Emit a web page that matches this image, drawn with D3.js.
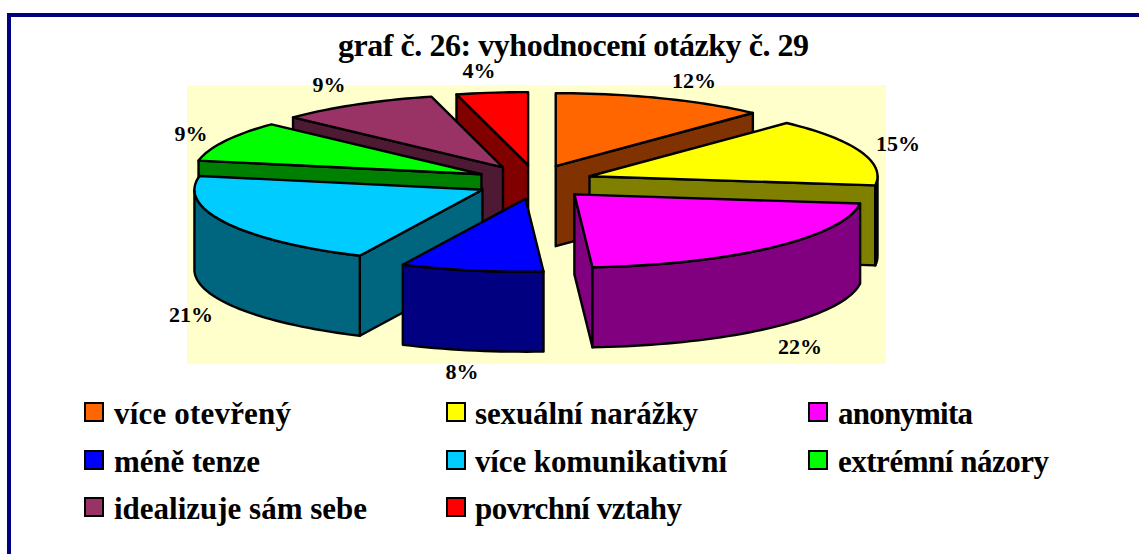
<!DOCTYPE html>
<html><head><meta charset="utf-8">
<script src="https://cdn.jsdelivr.net/npm/d3@7/dist/d3.min.js"></script>
<style>html,body{margin:0;padding:0;background:#fff}svg{display:block}text{font-family:"Liberation Serif",serif;font-weight:bold;fill:#000}</style>
</head><body><svg id="c" width="1139" height="554"></svg>
<script>
const categories = ["více otevřený","sexuální narážky","anonymita","méně tenze","více komunikativní","extrémní názory","idealizuje sám sebe","povrchní vztahy"];
const values = [12,15,22,8,21,9,9,4];
const topColors = ["#FF6600","#FFFF00","#FF00FF","#0000FF","#00CCFF","#00FF00","#993366","#FF0000"];
const sideColors = ["#803300","#808000","#800080","#000080","#006680","#008000","#4D1933","#800000"];
const paintOrder = [0,7,6,5,1,4,2,3];
const title = "graf č. 26: vyhodnocení otázky č. 29";
const labelAnchors = [[694,88],[898,151],[800,354],[462,379],[191,322],[191,141],[329,92],[479,78]];
const legendCells = [[84,402,114,424,177],[446,402,475,424,223],[808,402,838,424,135],[84,450,114,472,146],[446,450,475,472,252],[808,450,838,472,211],[84,497,114,519,253],[446,497,475,519,207]];
const explodeNudge = [0,0,0,2.5,1,0,-1,1.5];

const svg = d3.select("#c");
const R=288, r=73, depth=80, cx=534, cy=182, ex=59, ey=17;
const TAU=2*Math.PI;

svg.append("rect").attr("x",7).attr("y",13).attr("width",1132).attr("height",4).attr("fill","#000080");
svg.append("rect").attr("x",7).attr("y",13).attr("width",4).attr("height",541).attr("fill","#000080");
svg.append("rect").attr("x",187).attr("y",85).attr("width",699).attr("height",279).attr("fill","#FFFFCC");

svg.append("text").attr("x",573.5).attr("y",56).attr("text-anchor","middle").attr("font-size",32)
   .attr("textLength",471).attr("lengthAdjust","spacing").text(title);

const arcs = d3.pie().sort(null).startAngle(0).endAngle(TAU)(values);
const line = d3.line();
const stroke = s => s.attr("stroke","#000").attr("stroke-width",2.4).attr("stroke-linejoin","round");

function sliceGeom(a,i){
  const mid=(a.startAngle+a.endAngle)/2;
  const c={x:cx+ex*Math.sin(mid)+explodeNudge[i], y:cy-ey*Math.cos(mid)};
  const pt=(t,d=0)=>[c.x+R*Math.sin(t), c.y-r*Math.cos(t)+d];
  const range=(t0,t1)=>{ const n=Math.max(2,Math.ceil((t1-t0)/0.03)); return d3.range(n+1).map(i=>t0+(t1-t0)*i/n); };
  return {c,pt,range};
}

const g = svg.append("g");
paintOrder.forEach(i=>{
  const a=arcs[i], {c,pt,range}=sliceGeom(a,i);
  const cut=t=>[[c.x,c.y],pt(t),pt(t,depth),[c.x,c.y+depth]];
  if(Math.sin(a.endAngle)>1e-6)  stroke(g.append("path").attr("d",line(cut(a.endAngle))+"Z").attr("fill",sideColors[i]));
  if(Math.sin(a.startAngle)<-1e-6) stroke(g.append("path").attr("d",line(cut(a.startAngle))+"Z").attr("fill",sideColors[i]));
  const f0=Math.max(a.startAngle,TAU/4), f1=Math.min(a.endAngle,3*TAU/4);
  if(f1>f0){
    const ts=range(f0,f1);
    const pts=ts.map(t=>pt(t)).concat(ts.slice().reverse().map(t=>pt(t,depth)));
    stroke(g.append("path").attr("d",line(pts)+"Z").attr("fill",sideColors[i]));
  }
  const top=[[c.x,c.y]].concat(range(a.startAngle,a.endAngle).map(t=>pt(t)));
  stroke(g.append("path").attr("d",line(top)+"Z").attr("fill",topColors[i]));
});

svg.append("g").selectAll("text").data(values).join("text")
  .attr("x",(d,i)=>labelAnchors[i][0]).attr("y",(d,i)=>labelAnchors[i][1])
  .attr("text-anchor","middle").attr("font-size",22).text(d=>d+"%");

const lg=svg.append("g").selectAll("g").data(categories).join("g");
lg.append("rect").attr("x",(d,i)=>legendCells[i][0]+1).attr("y",(d,i)=>legendCells[i][1]+1)
  .attr("width",18).attr("height",18).attr("fill",(d,i)=>topColors[i]).attr("stroke","#000").attr("stroke-width",2);
lg.append("text").attr("x",(d,i)=>legendCells[i][2]).attr("y",(d,i)=>legendCells[i][3])
  .attr("font-size",31).attr("textLength",(d,i)=>legendCells[i][4]).attr("lengthAdjust","spacing").text(d=>d);
</script></body></html>
